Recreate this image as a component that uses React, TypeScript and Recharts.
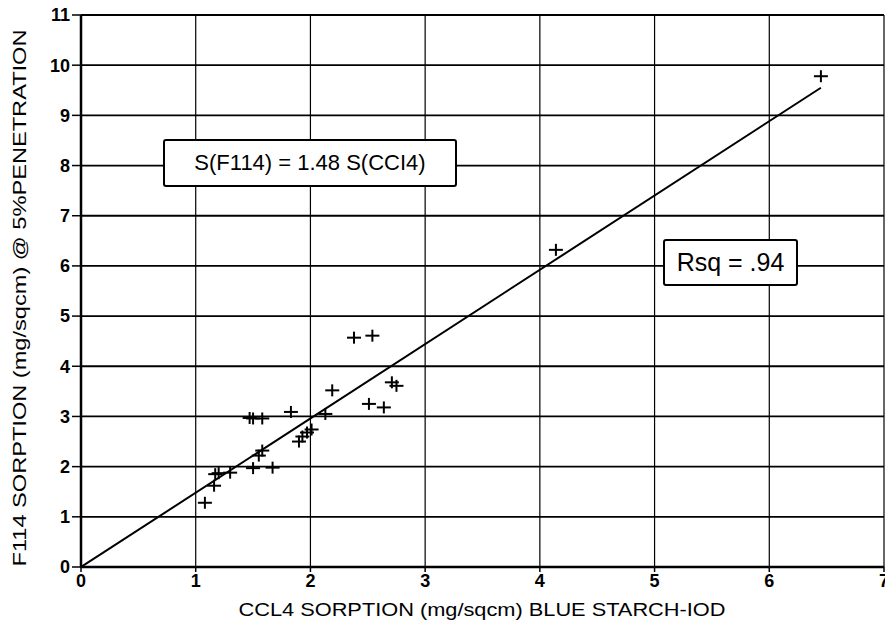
import {
  ScatterChart,
  Scatter,
  XAxis,
  YAxis,
  CartesianGrid,
} from "recharts";

const xTicks = [0, 1, 2, 3, 4, 5, 6, 7];
const yTicks = [0, 1, 2, 3, 4, 5, 6, 7, 8, 9, 10, 11];

// CCL4 sorption (x) vs F114 sorption (y)
const ccl4 = [
  1.08, 1.16, 1.17, 1.2, 1.3, 1.5, 1.67, 1.47, 1.5, 1.58, 1.83, 1.55, 1.58, 1.9,
  1.93, 1.97, 2.01, 2.13, 2.19, 2.51, 2.64, 2.71, 2.75, 2.38, 2.54, 4.14, 6.45,
];
const f114 = [
  1.28, 1.62, 1.85, 1.87, 1.88, 1.97, 1.98, 2.97, 2.96, 2.96, 3.09, 2.22, 2.32, 2.5,
  2.6, 2.68, 2.74, 3.05, 3.52, 3.25, 3.18, 3.68, 3.61, 4.57, 4.61, 6.32, 9.78,
];

// fitted line S(F114) = 1.48 S(CCl4)
const fitX = [0, 6.45];
const fitY = [0, 9.55];

const points = ccl4.map((x, i) => ({ x, y: f114[i] }));
const fitLine = fitX.map((x, i) => ({ x, y: fitY[i] }));

const FONT = '"Liberation Sans", Arial, Helvetica, sans-serif';

const tickStyle = {
  fontFamily: FONT,
  fontSize: 18,
  fontWeight: 700,
  fill: "#000",
};

const Plus = (props: any) => {
  const { cx, cy } = props;
  if (cx == null || cy == null) return <g />;
  return (
    <g stroke="#000" strokeWidth={2}>
      <line x1={cx - 7} y1={cy} x2={cx + 7} y2={cy} />
      <line x1={cx} y1={cy - 6} x2={cx} y2={cy + 6} />
    </g>
  );
};

const Nothing = () => <g />;

const YTitle = () => (
  <text
    x={19}
    y={298}
    transform="rotate(-90 19 298)"
    textAnchor="middle"
    dominantBaseline="central"
    fontFamily={FONT}
    fontSize={19}
    textLength={537}
    lengthAdjust="spacingAndGlyphs"
    fill="#000"
  >
    F114 SORPTION (mg/sqcm) @ 5%PENETRATION
  </text>
);

const XTitle = () => (
  <text
    x={482}
    y={609}
    textAnchor="middle"
    dominantBaseline="central"
    fontFamily={FONT}
    fontSize={19}
    textLength={487}
    lengthAdjust="spacingAndGlyphs"
    fill="#000"
  >
    CCL4 SORPTION (mg/sqcm) BLUE STARCH-IOD
  </text>
);

const boxStyle = {
  position: "absolute" as const,
  border: "2px solid #000",
  borderRadius: 3,
  background: "#fff",
  boxSizing: "border-box" as const,
  display: "flex",
  alignItems: "center",
  justifyContent: "center",
  fontFamily: FONT,
  color: "#000",
};

export default function App() {
  return (
    <div
      style={{
        position: "absolute",
        left: 0,
        top: 0,
        width: 885,
        height: 625,
        background: "#fff",
        overflow: "hidden",
      }}
    >
      <ScatterChart
        width={885}
        height={625}
        margin={{ top: 15, right: 1, left: 0, bottom: 0 }}
      >
        <CartesianGrid
          horizontal={true}
          vertical={false}
          stroke="#000"
          strokeWidth={1.8}
          horizontalValues={yTicks}
        />
        <CartesianGrid
          horizontal={false}
          vertical={true}
          stroke="#000"
          strokeWidth={1.2}
          verticalValues={xTicks}
        />
        <XAxis
          type="number"
          dataKey="x"
          domain={[0, 7]}
          ticks={xTicks}
          interval={0}
          height={58}
          tick={tickStyle}
          tickSize={5}
          tickLine={{ stroke: "#000", strokeWidth: 1.5 }}
          axisLine={{ stroke: "#000", strokeWidth: 2.5 }}
          allowDataOverflow
          label={<XTitle />}
        />
        <YAxis
          type="number"
          dataKey="y"
          domain={[0, 11]}
          ticks={yTicks}
          interval={0}
          width={81}
          tick={tickStyle}
          tickSize={9}
          tickLine={{ stroke: "#000", strokeWidth: 1.5 }}
          axisLine={{ stroke: "#000", strokeWidth: 2.5 }}
          allowDataOverflow
          label={<YTitle />}
        />
        <Scatter
          data={fitLine}
          line={{ stroke: "#000", strokeWidth: 2 }}
          lineType="joint"
          shape={<Nothing />}
          isAnimationActive={false}
        />
        <Scatter data={points} shape={<Plus />} isAnimationActive={false} />
      </ScatterChart>
      <div style={{ ...boxStyle, left: 163, top: 139, width: 294, height: 48, fontSize: 22 }}>
        S(F114) = 1.48 S(CCI4)
      </div>
      <div style={{ ...boxStyle, left: 663, top: 239, width: 135, height: 47, fontSize: 25 }}>
        Rsq = .94
      </div>
    </div>
  );
}
